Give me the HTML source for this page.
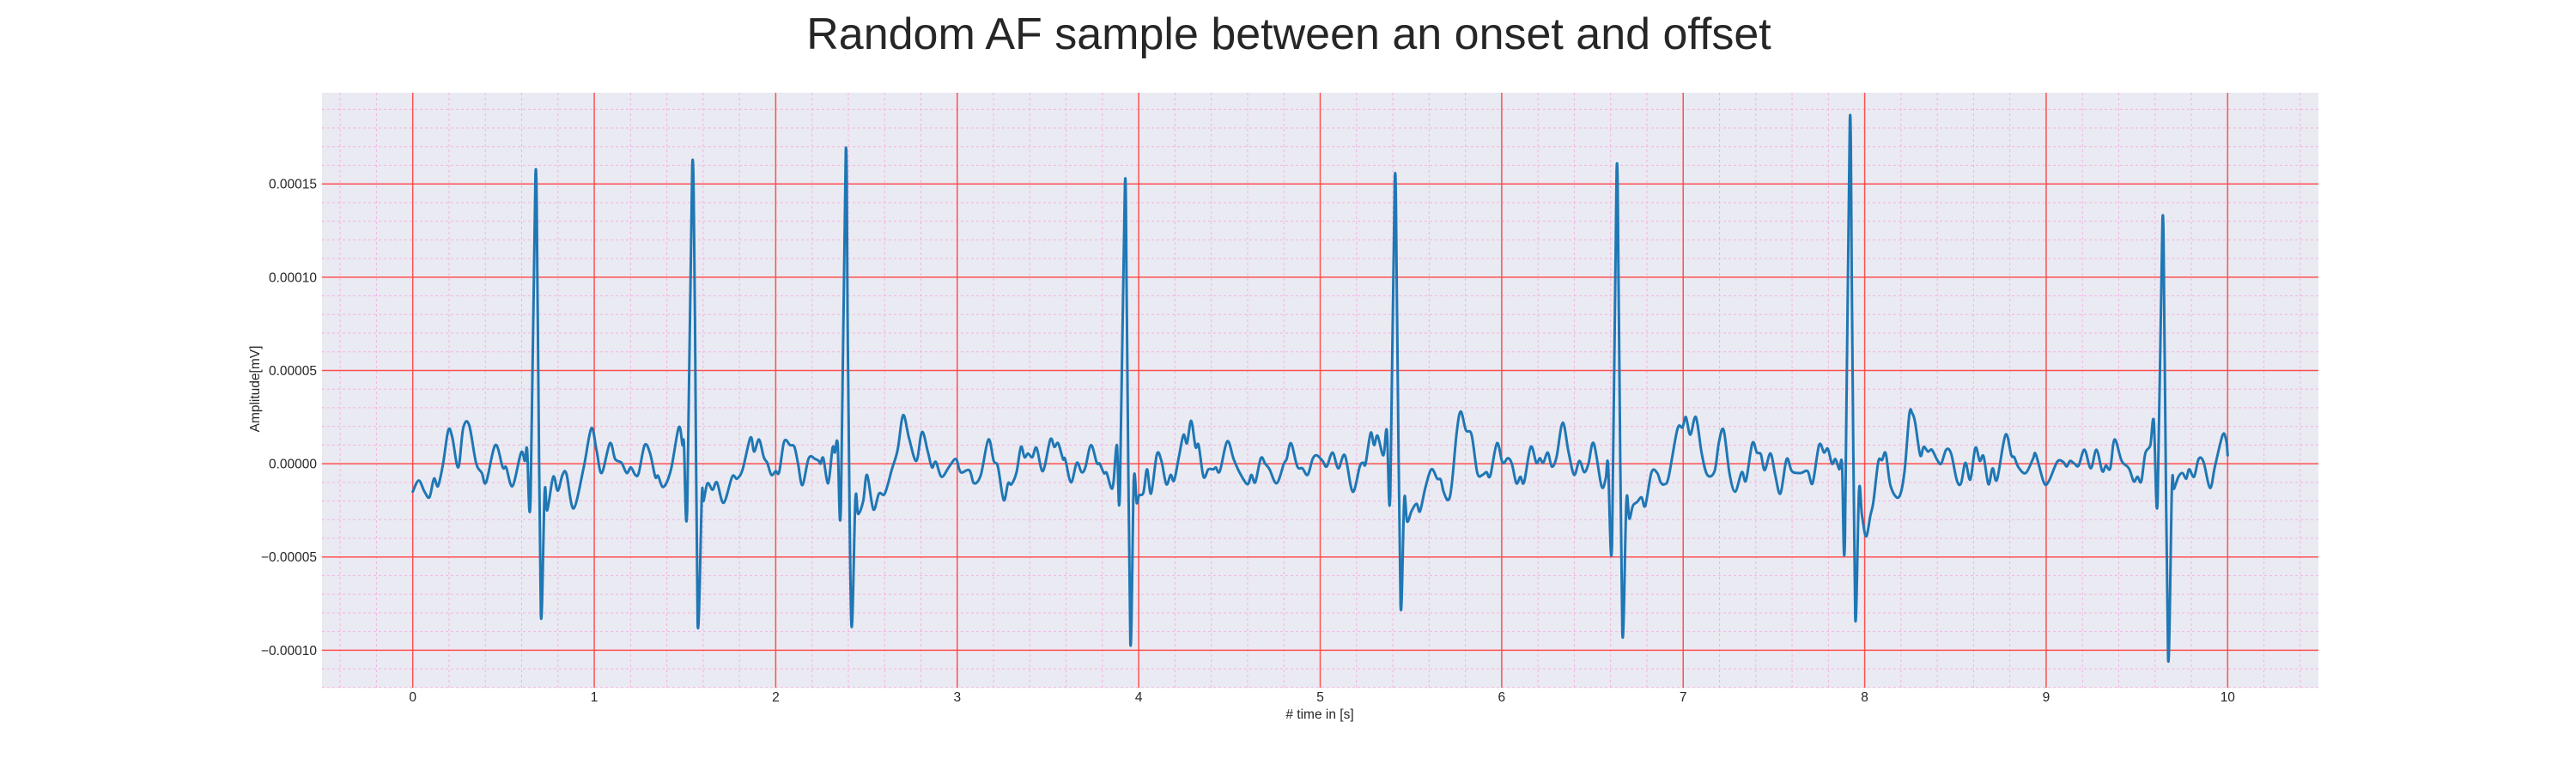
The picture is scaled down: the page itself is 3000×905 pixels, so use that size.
<!DOCTYPE html>
<html>
<head>
<meta charset="utf-8">
<style>
  html, body { margin:0; padding:0; background:#ffffff; }
  body { width:3000px; height:900px; overflow:hidden; }
  svg text { font-family:"Liberation Sans", Arial, sans-serif; fill:#262626; }
</style>
</head>
<body>
<svg id="chart" width="3000" height="900" viewBox="0 0 3000 900" xmlns="http://www.w3.org/2000/svg">
  <text x="1501" y="57" font-size="52" text-anchor="middle">Random AF sample between an onset and offset</text>
  <rect x="375" y="108" width="2325" height="693" fill="#eaeaf2"/>
  <g id="grid-minor"></g>
  <g id="grid-major"></g>
  <g id="series"></g>
  <g id="xticks"></g>
  <g id="yticks"></g>
  <text x="1537" y="837" font-size="15.5" text-anchor="middle"># time in [s]</text>
  <text x="0" y="0" font-size="15.5" text-anchor="middle" transform="translate(302,453) rotate(-90)">Amplitude[mV]</text>
</svg>
<script>
// ---- data ----
const xTickValues = [0,1,2,3,4,5,6,7,8,9,10];
const xTickLabels = ["0","1","2","3","4","5","6","7","8","9","10"];
const yTickValues = [-0.0001,-0.00005,0,0.00005,0.0001,0.00015];
const yTickLabels = ["\u22120.00010","\u22120.00005","0.00000","0.00005","0.00010","0.00015"];
const timeSec = [
0,.033,.065,.092,.117,.139,.167,.196,.218,.251,.278,.310,.349,.381,.404,.455,.496,.515,.550,.597,.618,.630,.649,.676,.689,.706,.727,.741,.774,.799,.825,.847,.886,.942,.984,1.013,1.041,1.087,1.115,1.150,1.179,1.202,1.226,1.245,1.278,1.308,1.336,1.352,1.381,1.423,1.466,1.486,1.494,1.512,1.540,1.555,1.570,1.593,1.602,1.624,1.652,1.676,1.713,1.760,1.787,1.818,1.861,1.881,1.908,1.934,1.953,1.976,
2.000,2.019,2.047,2.079,2.103,2.123,2.147,2.182,2.218,2.237,2.247,2.262,2.289,2.313,2.326,2.341,2.359,2.386,2.398,2.417,2.439,2.454,2.482,2.503,2.538,2.569,2.601,2.640,2.672,2.702,2.735,2.775,2.806,2.838,2.861,2.882,2.914,2.956,2.993,3.019,3.067,3.093,3.130,3.172,3.201,3.224,3.256,3.280,3.299,3.327,3.351,3.371,3.390,3.414,3.437,3.472,3.513,3.535,3.556,3.583,3.595,3.627,3.659,3.685,3.706,3.737,3.769,3.785,3.808,3.824,3.848,3.861,3.880,3.896,3.924,3.935,3.954,3.973,3.989,
4.002,4.026,4.046,4.068,4.100,4.125,4.152,4.176,4.195,4.223,4.247,4.266,4.289,4.313,4.330,4.357,4.384,4.412,4.425,4.447,4.488,4.523,4.555,4.599,4.621,4.642,4.673,4.697,4.721,4.760,4.800,4.815,4.839,4.874,4.902,4.931,4.958,4.981,5.013,5.036,5.068,5.100,5.136,5.179,5.218,5.237,5.250,5.278,5.297,5.316,5.348,5.367,5.386,5.411,5.424,5.443,5.463,5.479,5.503,5.531,5.550,5.579,5.613,5.645,5.664,5.680,5.705,5.724,5.752,5.774,5.803,5.834,5.866,5.894,5.916,5.937,
5.974,6.005,6.034,6.056,6.081,6.103,6.123,6.160,6.191,6.210,6.229,6.254,6.276,6.302,6.336,6.368,6.399,6.428,6.455,6.478,6.507,6.550,6.573,6.586,6.608,6.633,6.646,6.665,6.687,6.703,6.723,6.747,6.771,6.791,6.826,6.857,6.876,6.897,6.920,6.968,6.996,7.015,7.039,7.070,7.102,7.133,7.173,7.197,7.223,7.255,7.286,7.323,7.346,7.381,7.406,7.428,7.449,7.481,7.507,7.536,7.570,7.599,7.646,7.686,7.713,7.749,7.776,7.797,7.820,7.839,7.860,7.875,7.891,7.918,7.931,7.948,
7.969,7.985,8.008,8.032,8.048,8.075,8.096,8.116,8.143,8.188,8.219,8.246,8.262,8.278,8.306,8.325,8.349,8.370,8.397,8.421,8.449,8.476,8.508,8.531,8.555,8.582,8.610,8.634,8.655,8.682,8.705,8.729,8.776,8.808,8.824,8.848,8.887,8.927,8.943,8.987,9.014,9.061,9.093,9.113,9.132,9.156,9.179,9.211,9.246,9.277,9.309,9.329,9.353,9.377,9.416,9.456,9.483,9.503,9.524,9.546,9.574,9.593,9.614,9.641,9.653,9.672,9.693,9.704,9.729,9.751,9.772,9.788,9.815,9.840,9.867,9.903,9.930,9.973,9.993,10.0
];
// amplitude in units of 1e-5 mV
const amplitudeE5 = [
-1.5,-0.9,-1.5,-1.8,-0.8,-1.2,0,1.8,1.4,-0.2,1.9,2.1,0.05,-0.5,-1.0,1.0,-0.2,-0.2,-1.2,0.6,0.15,0.8,-1.9,15.5,7.7,-8.1,-1.5,-2.5,-0.7,-1.45,-0.6,-0.55,-2.4,-0.2,1.9,0.7,-0.5,1.1,0.25,0.05,-0.5,-0.2,-0.6,-0.5,1.0,0.55,-0.7,-0.65,-1.25,-0.3,1.95,1.0,1.1,-2.45,16.0,7.7,-8.6,-1.7,-2.0,-1.05,-1.4,-1.0,-2.1,-0.7,-0.8,-0.3,1.4,0.65,1.3,0.35,0.05,-0.6,
-0.4,-0.45,1.2,1.0,0.9,0,-1.15,0.3,0.25,0.15,0,0.3,-1.05,0.85,0.6,1.1,-2.35,16.8,5.8,-8.6,-1.9,-2.7,-2.0,-0.6,-2.45,-1.6,-1.6,-0.3,0.75,2.6,1.35,0.15,1.7,0.65,-0.2,0.1,-0.7,-0.15,0.25,-0.45,-0.35,-1.05,-0.6,1.3,0.15,-0.15,-1.95,-1.05,-1.1,-0.45,0.9,0.35,0.55,0.35,0.85,-0.4,1.3,0.9,1.1,0.25,0.25,-1.0,0.05,-0.45,-0.2,1.0,0.05,0,-0.5,-0.5,-1.3,-1.0,1.0,-1.6,15.0,7.7,-9.6,-0.9,-2.1,
-1.7,-1.55,-0.3,-1.6,0.5,0.15,-1.1,-0.6,-0.9,0.45,1.55,1.1,2.3,0.9,1.0,-0.7,-0.3,-0.3,-0.2,-0.4,1.2,0.25,-0.45,-1.1,-0.6,-1.0,0.3,0,-0.3,-1.05,0,0.25,1.1,-0.15,-0.25,-0.6,0.25,0.45,0.15,-0.15,0.6,-0.25,0.45,-1.5,-0.15,0.05,0,1.65,1.0,1.5,0.45,1.8,-1.7,15.3,7.7,-7.6,-1.9,-3.1,-2.55,-2.15,-2.55,-1.3,-0.3,-0.8,-0.85,-1.5,-1.95,-1.2,1.65,2.8,1.8,1.55,-0.5,-0.6,-0.45,-0.65,
1.1,0.05,0.3,0,-1.05,-0.7,-1.0,0.9,0.05,0.3,0.05,0.6,-0.15,0.35,2.2,0.65,-0.6,0.15,-0.45,0,1.1,-1.2,-0.8,0,-4.3,15.7,7.7,-9.1,-2.0,-2.95,-2.25,-2.05,-1.8,-2.25,-0.45,-0.5,-1.0,-1.1,-0.7,1.85,1.95,2.5,1.55,2.5,0.55,-0.6,-0.4,1.15,1.8,-0.5,-1.5,-0.45,-0.9,1.1,0.6,0.5,-0.35,0.55,-0.6,-1.6,0.25,-0.4,-0.5,-0.4,-1.05,1.0,0.6,0.8,0,0.25,-0.3,0,-4.1,18.4,7.7,-8.25,
-1.45,-2.75,-3.9,-2.75,-2.05,0.1,0.2,0.55,-1.2,-1.8,-0.45,2.65,2.7,2.2,0.45,0.9,0.65,0.75,0.25,0,0.75,0.55,-0.9,-1.05,0.05,-0.85,0.85,0.15,0.4,-1.1,-0.25,-0.85,1.55,0.45,0.35,-0.2,-0.5,0.25,0.5,-1.0,-0.95,0.1,0.1,-0.15,0.15,0,-0.1,0.75,-0.25,0.75,-0.4,-0.1,-0.25,1.3,0.15,-0.25,-0.95,-0.7,-0.95,0.55,1.0,2.3,-2.05,13.1,5.8,-10.5,-1.25,-1.35,-0.7,-0.5,-0.8,-0.3,-0.7,0.25,0.1,-1.3,-0.15,1.55,1.2,0.45
];
const amplitudeScale = 1e-5;

// ---- axes ----
const X0 = 375, X1 = 2700, Y0 = 108, Y1 = 801;
const xMin = -0.5, xMax = 10.5, yMin = -0.0001201, yMax = 0.0001989;
function xScale(t){ return X0 + (t - xMin) / (xMax - xMin) * (X1 - X0); }
function yScale(v){ return Y1 - (v - yMin) / (yMax - yMin) * (Y1 - Y0); }

const NS = "http://www.w3.org/2000/svg";
function mk(tag, attrs, parent){
  const el = document.createElementNS(NS, tag);
  for (const k in attrs) el.setAttribute(k, attrs[k]);
  parent.appendChild(el);
  return el;
}
const gMinor = document.getElementById('grid-minor');
const gMajor = document.getElementById('grid-major');
for (let i = -2; i <= 52; i++) {
  if (i % 5 === 0) continue;
  const x = xScale(i * 0.2);
  const l = mk('line', {x1:x, x2:x, y1:Y0, y2:Y1, stroke:'#f4b3e3', 'stroke-width':1, 'stroke-dasharray':'3,3'}, gMinor);
  
  
}
for (let i = -12; i <= 19; i++) {
  if (i % 5 === 0) continue;
  const y = yScale(i * 1e-5);
  const l = mk('line', {x1:X0, x2:X1, y1:y, y2:y, stroke:'#f4b3e3', 'stroke-width':1, 'stroke-dasharray':'3,3'}, gMinor);
  
  
}
const gx = document.getElementById('xticks');
xTickValues.forEach((v, i) => {
  const x = xScale(v);
  const l = mk('line', {x1:x, x2:x, y1:Y0, y2:Y1, stroke:'#ff5050', 'stroke-width':1.5}, gMajor);
  
  
  const t = mk('text', {x:x, y:817, 'font-size':15.5, 'text-anchor':'middle'}, gx);
  t.textContent = xTickLabels[i];
  
  
});
const gy = document.getElementById('yticks');
yTickValues.forEach((v, i) => {
  const y = yScale(v);
  const l = mk('line', {x1:X0, x2:X1, y1:y, y2:y, stroke:'#ff5050', 'stroke-width':1.5}, gMajor);
  
  
  const t = mk('text', {x:369, y:y + 5.5, 'font-size':15.5, 'text-anchor':'end'}, gy);
  t.textContent = yTickLabels[i];
  
  
});
// series: smooth Catmull-Rom path through data points
const P = timeSec.map((t, i) => [xScale(t), yScale(amplitudeE5[i] * amplitudeScale)]);
let d = 'M' + P[0][0].toFixed(1) + ',' + P[0][1].toFixed(1);
for (let i = 0; i < P.length - 1; i++) {
  const p0 = P[Math.max(0, i - 1)], p1 = P[i], p2 = P[i + 1], p3 = P[Math.min(P.length - 1, i + 2)];
  const k = 1 / 6;
  const c1x = p1[0] + (p2[0] - p0[0]) * k, c1y = p1[1] + (p2[1] - p0[1]) * k;
  const c2x = p2[0] - (p3[0] - p1[0]) * k, c2y = p2[1] - (p3[1] - p1[1]) * k;
  d += ' C' + c1x.toFixed(1) + ',' + c1y.toFixed(1) + ' ' + c2x.toFixed(1) + ',' + c2y.toFixed(1) + ' ' + p2[0].toFixed(1) + ',' + p2[1].toFixed(1);
}
const line = mk('path', {d: d, fill:'none', stroke:'#1f77b4', 'stroke-width':3, 'stroke-linejoin':'round', 'stroke-linecap':'round'}, document.getElementById('series'));


</script>
</body>
</html>
